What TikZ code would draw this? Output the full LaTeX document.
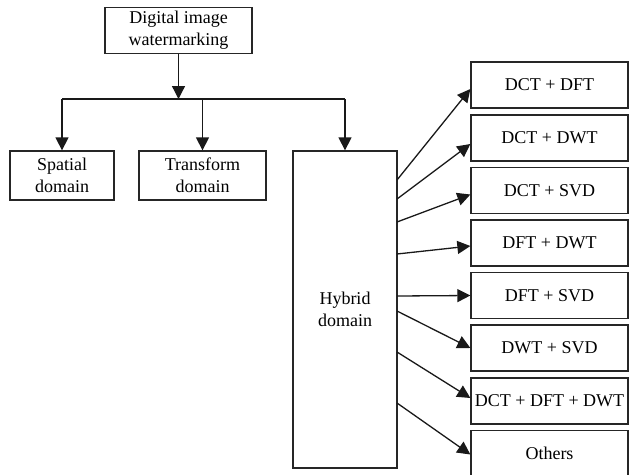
\documentclass[tikz,border=0pt]{standalone}
\usepackage{fontspec}
\setmainfont{Liberation Serif}
\usetikzlibrary{arrows.meta}
\begin{document}
\begin{tikzpicture}[x=1pt,y=-1pt,
  box/.style={draw=black!85, line width=1.3pt, align=center, inner sep=0pt,
    font=\fontsize{18}{22}\selectfont},
  rbox/.style={box, minimum width=157pt, minimum height=46pt},
  arr/.style={draw=black!90, line width=1.3pt, -{Triangle[length=13pt,width=13pt]}},
  ln/.style={draw=black!90, line width=1.3pt}]
\useasboundingbox (0,0) rectangle (629,474);
\begin{scope}
\clip (0,0) rectangle (629,474);
\node[box, minimum width=147pt, minimum height=46pt] (top) at (178.5,30.5) {Digital image\\watermarking};
\node[box, minimum width=104pt, minimum height=49pt] (sp) at (62,175.5) {Spatial\\domain};
\node[box, minimum width=127pt, minimum height=49pt] (tr) at (202.5,175.5) {Transform\\domain};
\node[box, minimum width=104pt, minimum height=317pt] (hy) at (345,309.5) {Hybrid\\domain};
\node[rbox] (b1) at (549.5,85) {DCT + DFT};
\node[rbox] (b2) at (549.5,138) {DCT + DWT};
\node[rbox] (b3) at (549.5,190.5) {DCT + SVD};
\node[rbox] (b4) at (549.5,243) {DFT + DWT};
\node[rbox] (b5) at (549.5,295.5) {DFT + SVD};
\node[rbox] (b6) at (549.5,348) {DWT + SVD};
\node[rbox] (b7) at (549.5,401) {DCT + DFT + DWT};
\node[rbox] (b8) at (549.5,453.5) {Others};
\coordinate (bus) at (178.5,99);
\coordinate (busl) at (62,99);
\coordinate (busr) at (345,99);
\draw[arr] (top) -- (bus);
\draw[ln] (busl) -- (busr);
\draw[arr] (busl) -- (sp);
\draw[arr] (bus -| tr) -- (tr);
\draw[arr] (busr) -- (hy);
\coordinate (s1) at (397,180);
\coordinate (s2) at (397,199);
\coordinate (s3) at (397,222);
\coordinate (s4) at (397,254);
\coordinate (s5) at (397,296);
\coordinate (s6) at (397,311);
\coordinate (s7) at (397,352);
\coordinate (s8) at (397,403);
\draw[arr] (s1) -- ([yshift=-4pt]b1.west);
\draw[arr] (s2) -- ([yshift=-6pt]b2.west);
\draw[arr] (s3) -- ([yshift=-4pt]b3.west);
\draw[arr] (s4) -- ([yshift=-3pt]b4.west);
\draw[arr] (s5) -- (b5.west);
\draw[arr] (s6) -- (b6.west);
\draw[arr] (s7) -- ([yshift=3pt]b7.west);
\draw[arr] (s8) -- ([yshift=-1pt]b8.west);
\end{scope}
\end{tikzpicture}
\end{document}
